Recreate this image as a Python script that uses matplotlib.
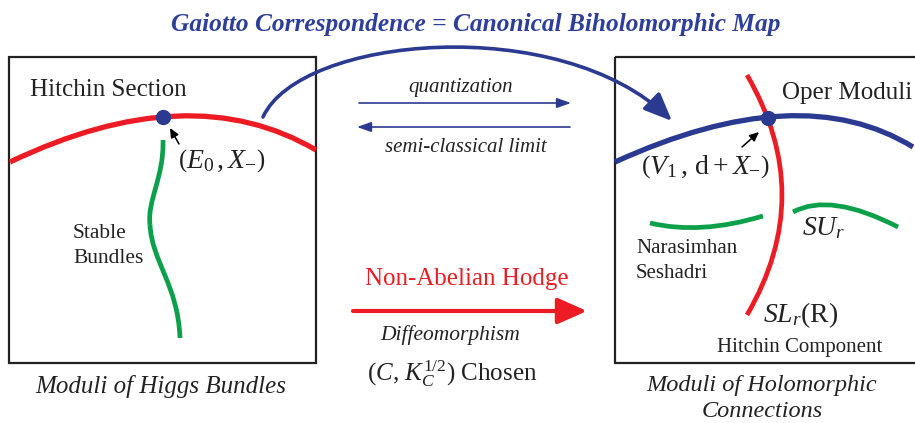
import matplotlib
matplotlib.use("Agg")
import matplotlib.pyplot as plt
from matplotlib.path import Path
from matplotlib.patches import PathPatch, FancyArrowPatch, Rectangle

plt.rcParams['font.family'] = ['Liberation Serif', 'DejaVu Serif']
plt.rcParams['mathtext.fontset'] = 'custom'
plt.rcParams['mathtext.rm'] = 'Liberation Serif'
plt.rcParams['mathtext.it'] = 'Liberation Serif:italic'
plt.rcParams['mathtext.bf'] = 'Liberation Serif:bold'

# ---- diagram data (pixel-space control points) ----
higgs_box = (9, 57, 316, 363)            # x0, y0, x1, y1
oper_box = (615, 57, 925, 363)
hitchin_section = [(10, 162), (190, 76), (316, 150)]          # quadratic
stable_bundles_a = [(163, 140), (164, 178), (147, 200), (150, 225)]
stable_bundles_b = [(150, 225), (152, 262), (178, 285), (180, 338)]
oper_curve = [(615, 162), (800, 77.5), (913, 147)]            # quadratic
hitchin_component = [(747, 75), (817, 195), (747, 315)]       # quadratic
ns_curve = [(650, 223), (700, 235), (763, 216)]
su_curve = [(793, 212), (830, 192), (898, 227)]
gaiotto_arc = [(263, 117), (300, 36), (560, 12), (672, 121)]  # cubic
higgs_point = (163, 117)
oper_point = (768, 118)

RED = '#ED1C24'
BLUE = '#2B3A91'
TBLUE = '#2E3F9A'
GREEN = '#0DA04A'
DARK = '#222222'

fig = plt.figure(figsize=(9.15, 4.23), dpi=100)
ax = fig.add_axes([0, 0, 1, 1])
ax.set_xlim(0, 915)
ax.set_ylim(423, 0)
ax.axis('off')


def curve(pts, color, lw, z=2):
    n = len(pts)
    code = {3: Path.CURVE3, 4: Path.CURVE4}[n]
    p = Path(pts, [Path.MOVETO] + [code] * (n - 1))
    ax.add_patch(PathPatch(p, fc='none', ec=color, lw=lw, capstyle='butt', zorder=z))


# boxes
for (x0, y0, x1, y1) in (higgs_box, oper_box):
    ax.add_patch(Rectangle((x0, y0), x1 - x0, y1 - y0, fc='none', ec=DARK, lw=1.6, zorder=1))

# left panel
curve(hitchin_section, RED, 3.8)
curve(stable_bundles_a, GREEN, 3.4)
curve(stable_bundles_b, GREEN, 3.4)
ax.plot(*higgs_point, 'o', color=BLUE, ms=10, zorder=5)

# right panel
curve(oper_curve, BLUE, 3.8, z=2)
curve(hitchin_component, RED, 3.4, z=3)
curve(ns_curve, GREEN, 3.4)
curve(su_curve, GREEN, 3.4)
ax.plot(*oper_point, 'o', color=BLUE, ms=10, zorder=5)

# Gaiotto arc
arc = FancyArrowPatch(path=Path(gaiotto_arc, [Path.MOVETO, Path.CURVE4, Path.CURVE4, Path.CURVE4]),
                      arrowstyle='-|>,head_length=0.85,head_width=0.36', mutation_scale=20,
                      color=BLUE, lw=2.6, zorder=4)
ax.add_patch(arc)

# middle arrows
def arrow(x0, y0, x1, y1, color, lw, hl, hw, ms):
    ax.annotate('', xy=(x1, y1), xytext=(x0, y0),
                arrowprops=dict(arrowstyle=f'-|>,head_length={hl},head_width={hw}',
                                color=color, lw=lw, mutation_scale=ms,
                                shrinkA=0, shrinkB=0))

arrow(359, 103, 571, 103, BLUE, 1.2, 0.85, 0.3, 10)
arrow(570, 127, 357, 127, BLUE, 1.2, 0.85, 0.3, 10)
arrow(353, 311, 587, 311, RED, 3.0, 0.9, 0.4, 20)
arrow(179, 144, 170, 128, 'black', 1.1, 0.55, 0.25, 10)
arrow(742, 147, 759, 132, 'black', 1.1, 0.55, 0.25, 10)

# texts
ax.text(476, 31, 'Gaiotto Correspondence = Canonical Biholomorphic Map', color=TBLUE,
        fontsize=18.3, fontweight='bold', fontstyle='italic', ha='center', va='baseline')
ax.text(30, 96, 'Hitchin Section', fontsize=18, color=DARK, va='baseline')
ax.text(782, 99, 'Oper Moduli', fontsize=18, color=DARK, va='baseline')
ax.text(73, 238, 'Stable', fontsize=15.5, color=DARK, va='baseline')
ax.text(73, 263, 'Bundles', fontsize=15.5, color=DARK, va='baseline')
ax.text(178, 161, r'$\left(E_0\,, X_{-}\right)$', fontsize=20, color=DARK, va='center')
ax.text(641, 167, r'$\left(V_1\,,\,\mathrm{d} + X_{-}\right)$', fontsize=20, color=DARK, va='center')
ax.text(636, 253, 'Narasimhan', fontsize=15, color=DARK, va='baseline')
ax.text(636, 278, 'Seshadri', fontsize=15, color=DARK, va='baseline')
ax.text(802, 235, r'$SU_r$', fontsize=20, color=DARK, va='baseline')
ax.text(763, 322, r'$SL_r(\mathrm{R})$', fontsize=20, color=DARK, va='baseline')
ax.text(800, 352, 'Hitchin Component', fontsize=15, color=DARK, ha='center', va='baseline')
ax.text(461, 92, 'quantization', fontsize=15, fontstyle='italic', color=DARK, ha='center', va='baseline')
ax.text(466, 152, 'semi-classical limit', fontsize=15, fontstyle='italic', color=DARK, ha='center', va='baseline')
ax.text(467, 285, 'Non-Abelian Hodge', fontsize=18, color=RED, ha='center', va='baseline')
ax.text(450, 340, 'Diffeomorphism', fontsize=15.5, fontstyle='italic', color=DARK, ha='center', va='baseline')
ax.text(452, 381, r'$(C,\, K_C^{1/2})$ Chosen', fontsize=18, color=DARK, ha='center', va='baseline')
ax.text(161, 393, 'Moduli of Higgs Bundles', fontsize=18, fontstyle='italic', color=DARK, ha='center', va='baseline')
ax.text(762, 391, 'Moduli of Holomorphic', fontsize=17.5, fontstyle='italic', color=DARK, ha='center', va='baseline')
ax.text(762, 417, 'Connections', fontsize=17.5, fontstyle='italic', color=DARK, ha='center', va='baseline')

fig.savefig('out.png', dpi=100)
